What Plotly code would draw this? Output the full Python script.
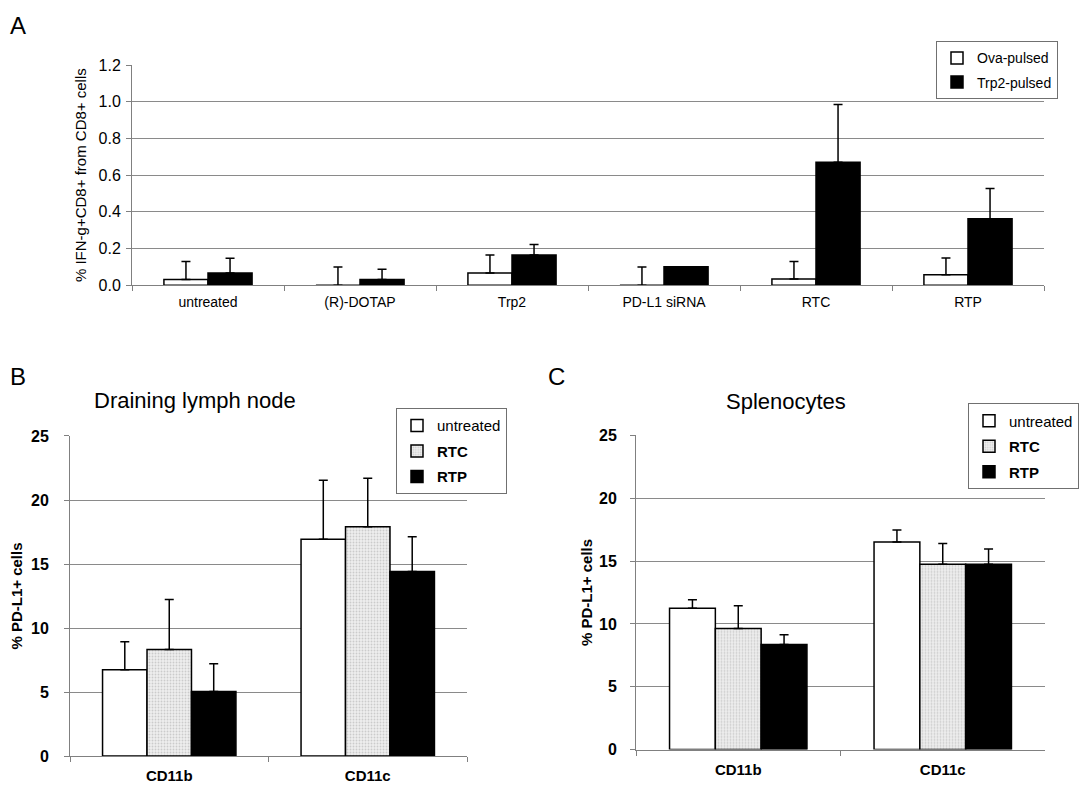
import plotly.graph_objects as go

# ---------------- data ----------------
a_categories = ["untreated", "(R)-DOTAP", "Trp2", "PD-L1 siRNA", "RTC", "RTP"]
a_ova = [0.032, 0.0, 0.067, 0.0, 0.034, 0.057]
a_ova_err = [0.098, 0.10, 0.098, 0.10, 0.096, 0.092]
a_trp2 = [0.067, 0.032, 0.165, 0.101, 0.67, 0.363]
a_trp2_err = [0.08, 0.055, 0.057, 0.0, 0.315, 0.165]
a_yticks = [0.0, 0.2, 0.4, 0.6, 0.8, 1.0, 1.2]

bc_categories = ["CD11b", "CD11c"]
b_untreated = [6.75, 16.94]
b_untreated_err = [2.17, 4.6]
b_rtc = [8.33, 17.91]
b_rtc_err = [3.9, 3.78]
b_rtp = [5.05, 14.42]
b_rtp_err = [2.16, 2.71]

c_untreated = [11.25, 16.51]
c_untreated_err = [0.67, 0.96]
c_rtc = [9.63, 14.75]
c_rtc_err = [1.82, 1.64]
c_rtp = [8.36, 14.75]
c_rtp_err = [0.78, 1.22]
bc_yticks = [0, 5, 10, 15, 20, 25]

W, H = 1080, 799
FONT = "Liberation Sans, Arial, sans-serif"
GRID = "#8a8a8a"
AXIS = "#808080"
BW = 0.224  # bar width (category units) for panels B and C


def err(vals):
    return dict(type="data", array=vals, arrayminus=[0] * len(vals), symmetric=False,
                color="black", thickness=1.5, width=4.5)


white = dict(color="white", line=dict(color="black", width=1.5))
black = dict(color="black", line=dict(color="black", width=1.5))
dotted = dict(color="#e4e4e4",
              pattern=dict(shape=".", fgcolor="#a8a8a8", bgcolor="#eeeeee", size=3, solidity=0.3),
              line=dict(color="black", width=1.5))

fig = go.Figure()

# Panel A
fig.add_trace(go.Bar(x=a_categories, y=a_ova, name="Ova-pulsed", marker=white,
                     error_y=err(a_ova_err), xaxis="x", yaxis="y", legend="legend",
                     legendgroup="a1"))
fig.add_trace(go.Bar(x=a_categories, y=a_trp2, name="Trp2-pulsed", marker=black,
                     error_y=err(a_trp2_err), xaxis="x", yaxis="y", legend="legend",
                     legendgroup="a2"))

# Panels B and C
panels = [
    ("x2", "y2", "legend2", [b_untreated, b_rtc, b_rtp], [b_untreated_err, b_rtc_err, b_rtp_err]),
    ("x3", "y3", "legend3", [c_untreated, c_rtc, c_rtp], [c_untreated_err, c_rtc_err, c_rtp_err]),
]
names = ["untreated", "<b>RTC</b>", "<b>RTP</b>"]
markers = [white, dotted, black]
for xa, ya, lg, vals, errs in panels:
    for i in range(3):
        fig.add_trace(go.Bar(x=bc_categories, y=vals[i], name=names[i], marker=markers[i],
                             error_y=err(errs[i]), xaxis=xa, yaxis=ya, legend=lg,
                             legendgroup=lg + str(i), width=BW, offset=-1.5 * BW + i * BW))


def xax(domain, anchor, size, bold=False, standoff=None):
    d = dict(domain=domain, anchor=anchor, type="category", showline=True, linecolor=AXIS,
             linewidth=1, ticks="outside", tickson="boundaries", ticklen=5, tickcolor=AXIS,
             showgrid=False, zeroline=False,
             tickfont=dict(family=FONT, size=size, color="black",
                           weight="bold" if bold else "normal"))
    if standoff is not None:
        d["ticklabelstandoff"] = standoff
    return d


def yax(domain, anchor, rng, ticks, size, bold, fmt, title, tsize, standoff, tstand):
    return dict(domain=domain, anchor=anchor, range=rng, tickvals=ticks, tickformat=fmt,
                showgrid=True, gridcolor=GRID, gridwidth=1, showline=True, linecolor=AXIS,
                linewidth=1, ticks="outside", ticklen=5, tickcolor=AXIS, zeroline=False,
                ticklabelstandoff=standoff,
                tickfont=dict(family=FONT, size=size, color="black",
                              weight="bold" if bold else "normal"),
                title=dict(text=title, font=dict(family=FONT, size=tsize, color="black",
                                                 weight="bold" if bold else "normal"),
                           standoff=tstand))


leg_common = dict(bordercolor="#707070", borderwidth=1, bgcolor="white", itemwidth=30,
                  traceorder="grouped", tracegroupgap=3, yanchor="top")

fig.update_layout(
    width=W, height=H,
    margin=dict(l=0, r=0, t=0, b=0),
    paper_bgcolor="white", plot_bgcolor="white",
    font=dict(family=FONT, color="black"),
    barmode="group", bargap=0.42, bargroupgap=0,
    xaxis=xax([132 / W, 1044 / W], "y", 14, standoff=4),
    yaxis=yax([1 - 283.3 / H, 1 - 58.3 / H], "x", [0, 1.2], a_yticks, 16, False, ".1f",
              "% IFN-g+CD8+ from CD8+ cells", 15, 2, 8),
    xaxis2=xax([70 / W, 467 / W], "y2", 15, bold=True, standoff=6),
    yaxis2=yax([1 - 764.3 / H, 1 - 437.3 / H], "x2", [0, 25], bc_yticks, 16, True, "d",
               "% PD-L1+ cells", 15, 12, 4),
    xaxis3=xax([636 / W, 1045 / W], "y3", 15, bold=True, standoff=6),
    yaxis3=yax([1 - 757.7 / H, 1 - 436.7 / H], "x3", [0, 25], bc_yticks, 16, True, "d",
               "% PD-L1+ cells", 15, 10, 2),
    showlegend=True,
    legend=dict(x=1058 / W, y=1 - 34 / H, xanchor="right",
                font=dict(family=FONT, size=14, color="black"), **leg_common),
    legend2=dict(x=507 / W, y=1 - 409 / H, xanchor="right",
                 font=dict(family=FONT, size=15, color="black"), **leg_common),
    legend3=dict(x=1079 / W, y=1 - 404 / H, xanchor="right",
                 font=dict(family=FONT, size=15, color="black"), **leg_common),
)

annotations = [
    dict(text="A", x=8 / W, y=1 - 18 / H, xanchor="left", size=24),
    dict(text="B", x=8 / W, y=1 - 376 / H, xanchor="left", size=24),
    dict(text="C", x=546 / W, y=1 - 376 / H, xanchor="left", size=24),
    dict(text="Draining lymph node", x=195 / W, y=1 - 401 / H, xanchor="center", size=22),
    dict(text="Splenocytes", x=786 / W, y=1 - 402 / H, xanchor="center", size=22),
]
for a in annotations:
    fig.add_annotation(text=a["text"], x=a["x"], y=a["y"], xref="paper", yref="paper",
                       xanchor=a["xanchor"], yanchor="middle", showarrow=False,
                       font=dict(family=FONT, size=a["size"], color="black"))

fig.write_html("out.html", config={"displayModeBar": False},
               post_script="document.body.style.margin='0';")
